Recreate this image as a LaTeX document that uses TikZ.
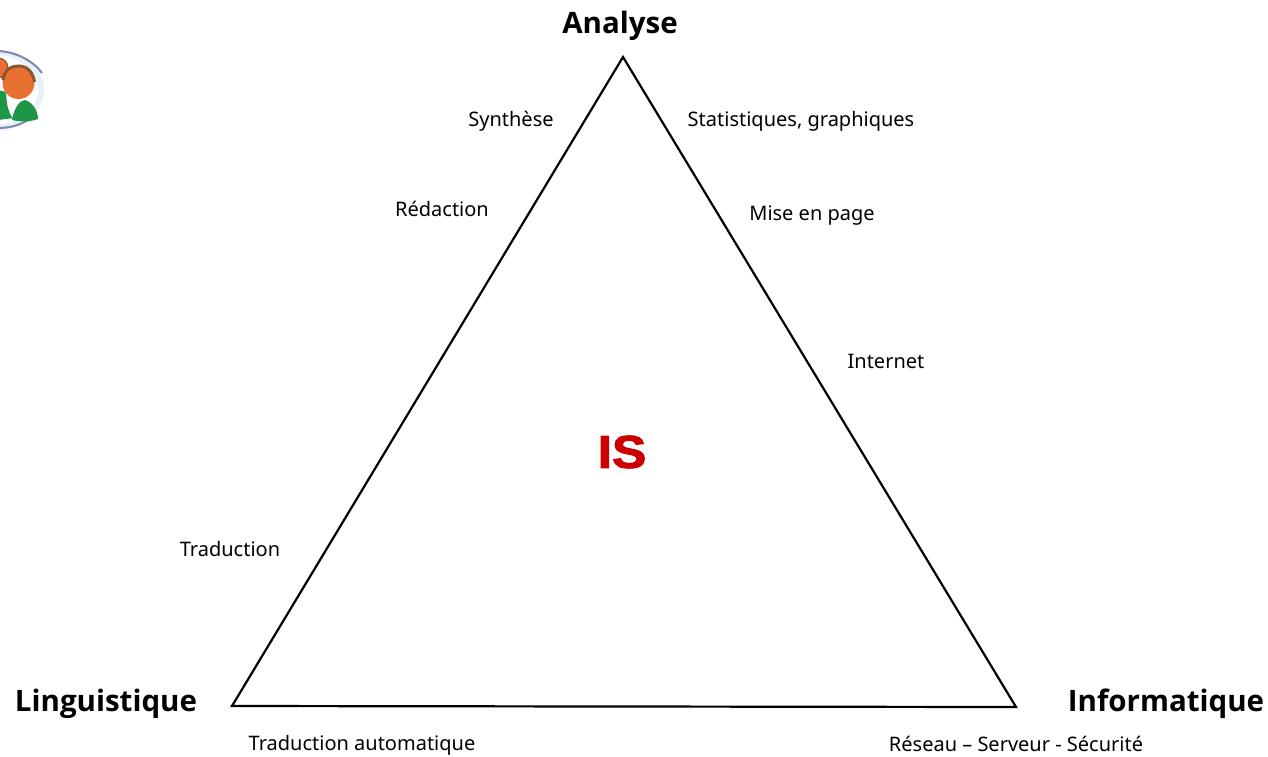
\documentclass[tikz,border=0pt]{standalone}
\usepackage{fontspec}
\setmainfont{Noto Sans}
\newfontfamily\bigfont[BoldFont={Open Sans Bold}]{Open Sans}
\newfontfamily\heavyfont[FakeBold=2.2]{Liberation Sans Bold}
\definecolor{isred}{RGB}{204,0,0}
\definecolor{skin}{RGB}{232,112,48}
\definecolor{hairc}{RGB}{140,85,45}
\definecolor{leaf}{RGB}{30,150,70}
\definecolor{ringc}{RGB}{125,135,175}
\definecolor{halo}{RGB}{232,240,248}
\tikzset{
  x=1pt,y=-1pt,
  small/.style={font=\fontsize{20}{24}\selectfont,inner sep=0pt,text=black},
  big/.style={font=\bigfont\fontsize{29.5}{34}\selectfont\bfseries,inner sep=0pt,text=black},
  edge/.style={draw=black,line width=2.2pt,line join=miter},
}
\begin{document}
\begin{tikzpicture}
\useasboundingbox (0,0) rectangle (1268,756);
\begin{scope}
\clip (0,40) rectangle (46,135);
\fill[halo] (-6,90) ellipse (50 and 41);
\fill[white] (-6,90) ellipse (44 and 35);
\draw[ringc,line width=2pt] (-2,51) .. controls (18,52) and (34,62) .. (42,73);
\draw[ringc,line width=2pt] (-2,128) .. controls (10,128) and (20,125) .. (28,120);
\fill[leaf] (-2,90) -- (6,92) -- (7,104) .. controls (10,116) and (12,118) .. (14,118) -- (-2,120) -- cycle;
\fill[leaf] (12,120) .. controls (14,108) and (20,100) .. (25,100) .. controls (32,102) and (38,110) .. (38,119) .. controls (30,122) and (20,122) .. (12,120) -- cycle;
\fill[skin,draw=hairc,line width=1.2pt] (-2,68) circle (10);
\fill[skin] (18.5,83) circle (16);
\draw[hairc,line width=3pt] (3,80) .. controls (5,68) and (12,66) .. (19,66) .. controls (27,66) and (33,72) .. (34.5,82);
\end{scope}
\coordinate (apex) at (623,57);
\coordinate (left) at (232,706);
\coordinate (right) at (1016,707);
\draw[edge] (apex) -- (right) -- (left) -- cycle;
\node[big,anchor=center] (analyse) at (620,26) {Analyse};
\node[big,anchor=center] (ling) at (106,704) {Linguistique};
\node[big,anchor=center] (info) at (1166,704) {Informatique};
\node[anchor=center,inner sep=0pt,text=isred,font=\heavyfont\fontsize{46}{50}\selectfont] (is) at (622,452) {\scalebox{1.12}[1]{IS}};
\node[small,anchor=center] (syn) at (511,121) {Synthèse};
\node[small,anchor=center] (red) at (442,209) {Rédaction};
\node[small,anchor=center] (trad) at (230,549) {Traduction};
\node[small,anchor=center] (stat) at (801,121) {Statistiques, graphiques};
\node[small,anchor=center] (mise) at (812,216) {Mise en page};
\node[small,anchor=center] (inter) at (886,361) {Internet};
\node[small,anchor=center] (auto) at (362,745) {Traduction automatique};
\node[small,anchor=center] (res) at (1016,744) {Réseau – Serveur - Sécurité};
\end{tikzpicture}
\end{document}
